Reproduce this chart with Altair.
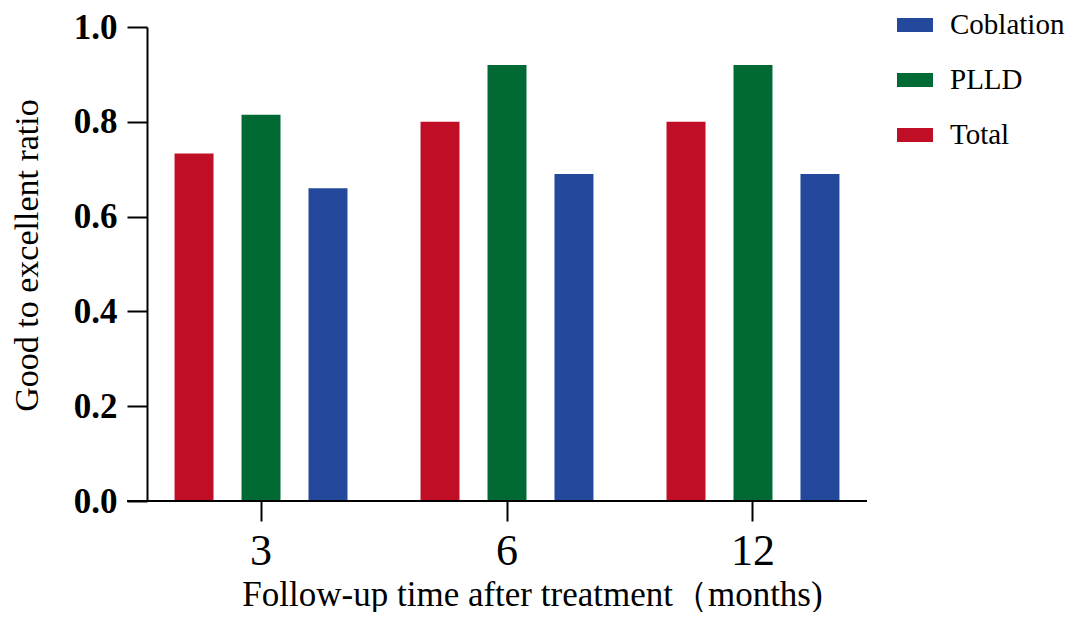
import altair as alt
import pandas as pd

months = ["3", "6", "12"]
groups = ["Total", "PLLD", "Coblation"]
legend_order = ["Coblation", "PLLD", "Total"]
legend_colors = ["#24489C", "#006934", "#C10E27"]
total = [0.733, 0.80, 0.80]
plld = [0.815, 0.92, 0.92]
coblation = [0.66, 0.69, 0.69]
y_ticks = [0.0, 0.2, 0.4, 0.6, 0.8, 1.0]

rows = []
for i, m in enumerate(months):
    for g, vals in zip(groups, [total, plld, coblation]):
        rows.append({"month": m, "group": g, "ratio": vals[i]})
df = pd.DataFrame(rows)

W, H = 720, 474
serif = "Liberation Serif"

bars = alt.Chart(df).mark_bar().encode(
    x=alt.X(
        "month:N",
        sort=months,
        scale=alt.Scale(paddingInner=0.297, paddingOuter=0.112),
        axis=alt.Axis(
            title="Follow-up time after treatment（months)",
            labelAngle=0,
            domain=False,
            ticks=True,
            tickSize=20,
            tickWidth=2,
            tickColor="black",
            labelFont=serif,
            labelFontSize=44,
            labelColor="black",
            labelPadding=8,
            titleFont=serif,
            titleFontSize=35,
            titleFontWeight="normal",
            titleColor="black",
            titleX=385,
            titleY=104,
            titleBaseline="alphabetic",
            grid=False,
        ),
    ),
    xOffset=alt.XOffset(
        "group:N",
        sort=groups,
        scale=alt.Scale(paddingInner=0.418, paddingOuter=0),
    ),
    y=alt.Y(
        "ratio:Q",
        scale=alt.Scale(domain=[0, 1]),
        axis=alt.Axis(
            title="Good to excellent ratio",
            values=y_ticks,
            format=".1f",
            domain=True,
            domainColor="black",
            domainWidth=2,
            tickSize=20,
            tickWidth=2,
            tickColor="black",
            labelFont=serif,
            labelFontSize=35,
            labelFontWeight="bold",
            labelColor="black",
            labelPadding=10,
            titleFont=serif,
            titleFontSize=34,
            titleFontWeight="normal",
            titleColor="black",
            titleX=-110,
            titleY=228,
            titleBaseline="alphabetic",
            grid=False,
        ),
    ),
    color=alt.Color(
        "group:N",
        scale=alt.Scale(domain=legend_order, range=legend_colors),
        legend=alt.Legend(
            title=None,
            orient="none",
            legendX=750,
            legendY=-20,
            symbolType="M-1,-0.39H1V0.39H-1Z",
            symbolSize=1296,
            symbolStrokeWidth=0,
            labelFont=serif,
            labelFontSize=29,
            labelColor="black",
            labelOffset=17,
            rowPadding=22,
            padding=0,
        ),
    ),
)

axis_line = alt.Chart(pd.DataFrame({"a": [0]})).mark_rule(
    color="black", strokeWidth=2
).encode(x=alt.value(-20), x2=alt.value(W), y=alt.value(H))

chart = alt.layer(bars, axis_line).properties(
    width=W,
    height=H,
    autosize=alt.AutoSizeParams(type="none"),
    padding={"left": 139, "top": 19, "right": 209, "bottom": 111},
).configure_view(strokeWidth=0)

chart.save("out.html", embed_options={"renderer": "svg", "actions": False})
